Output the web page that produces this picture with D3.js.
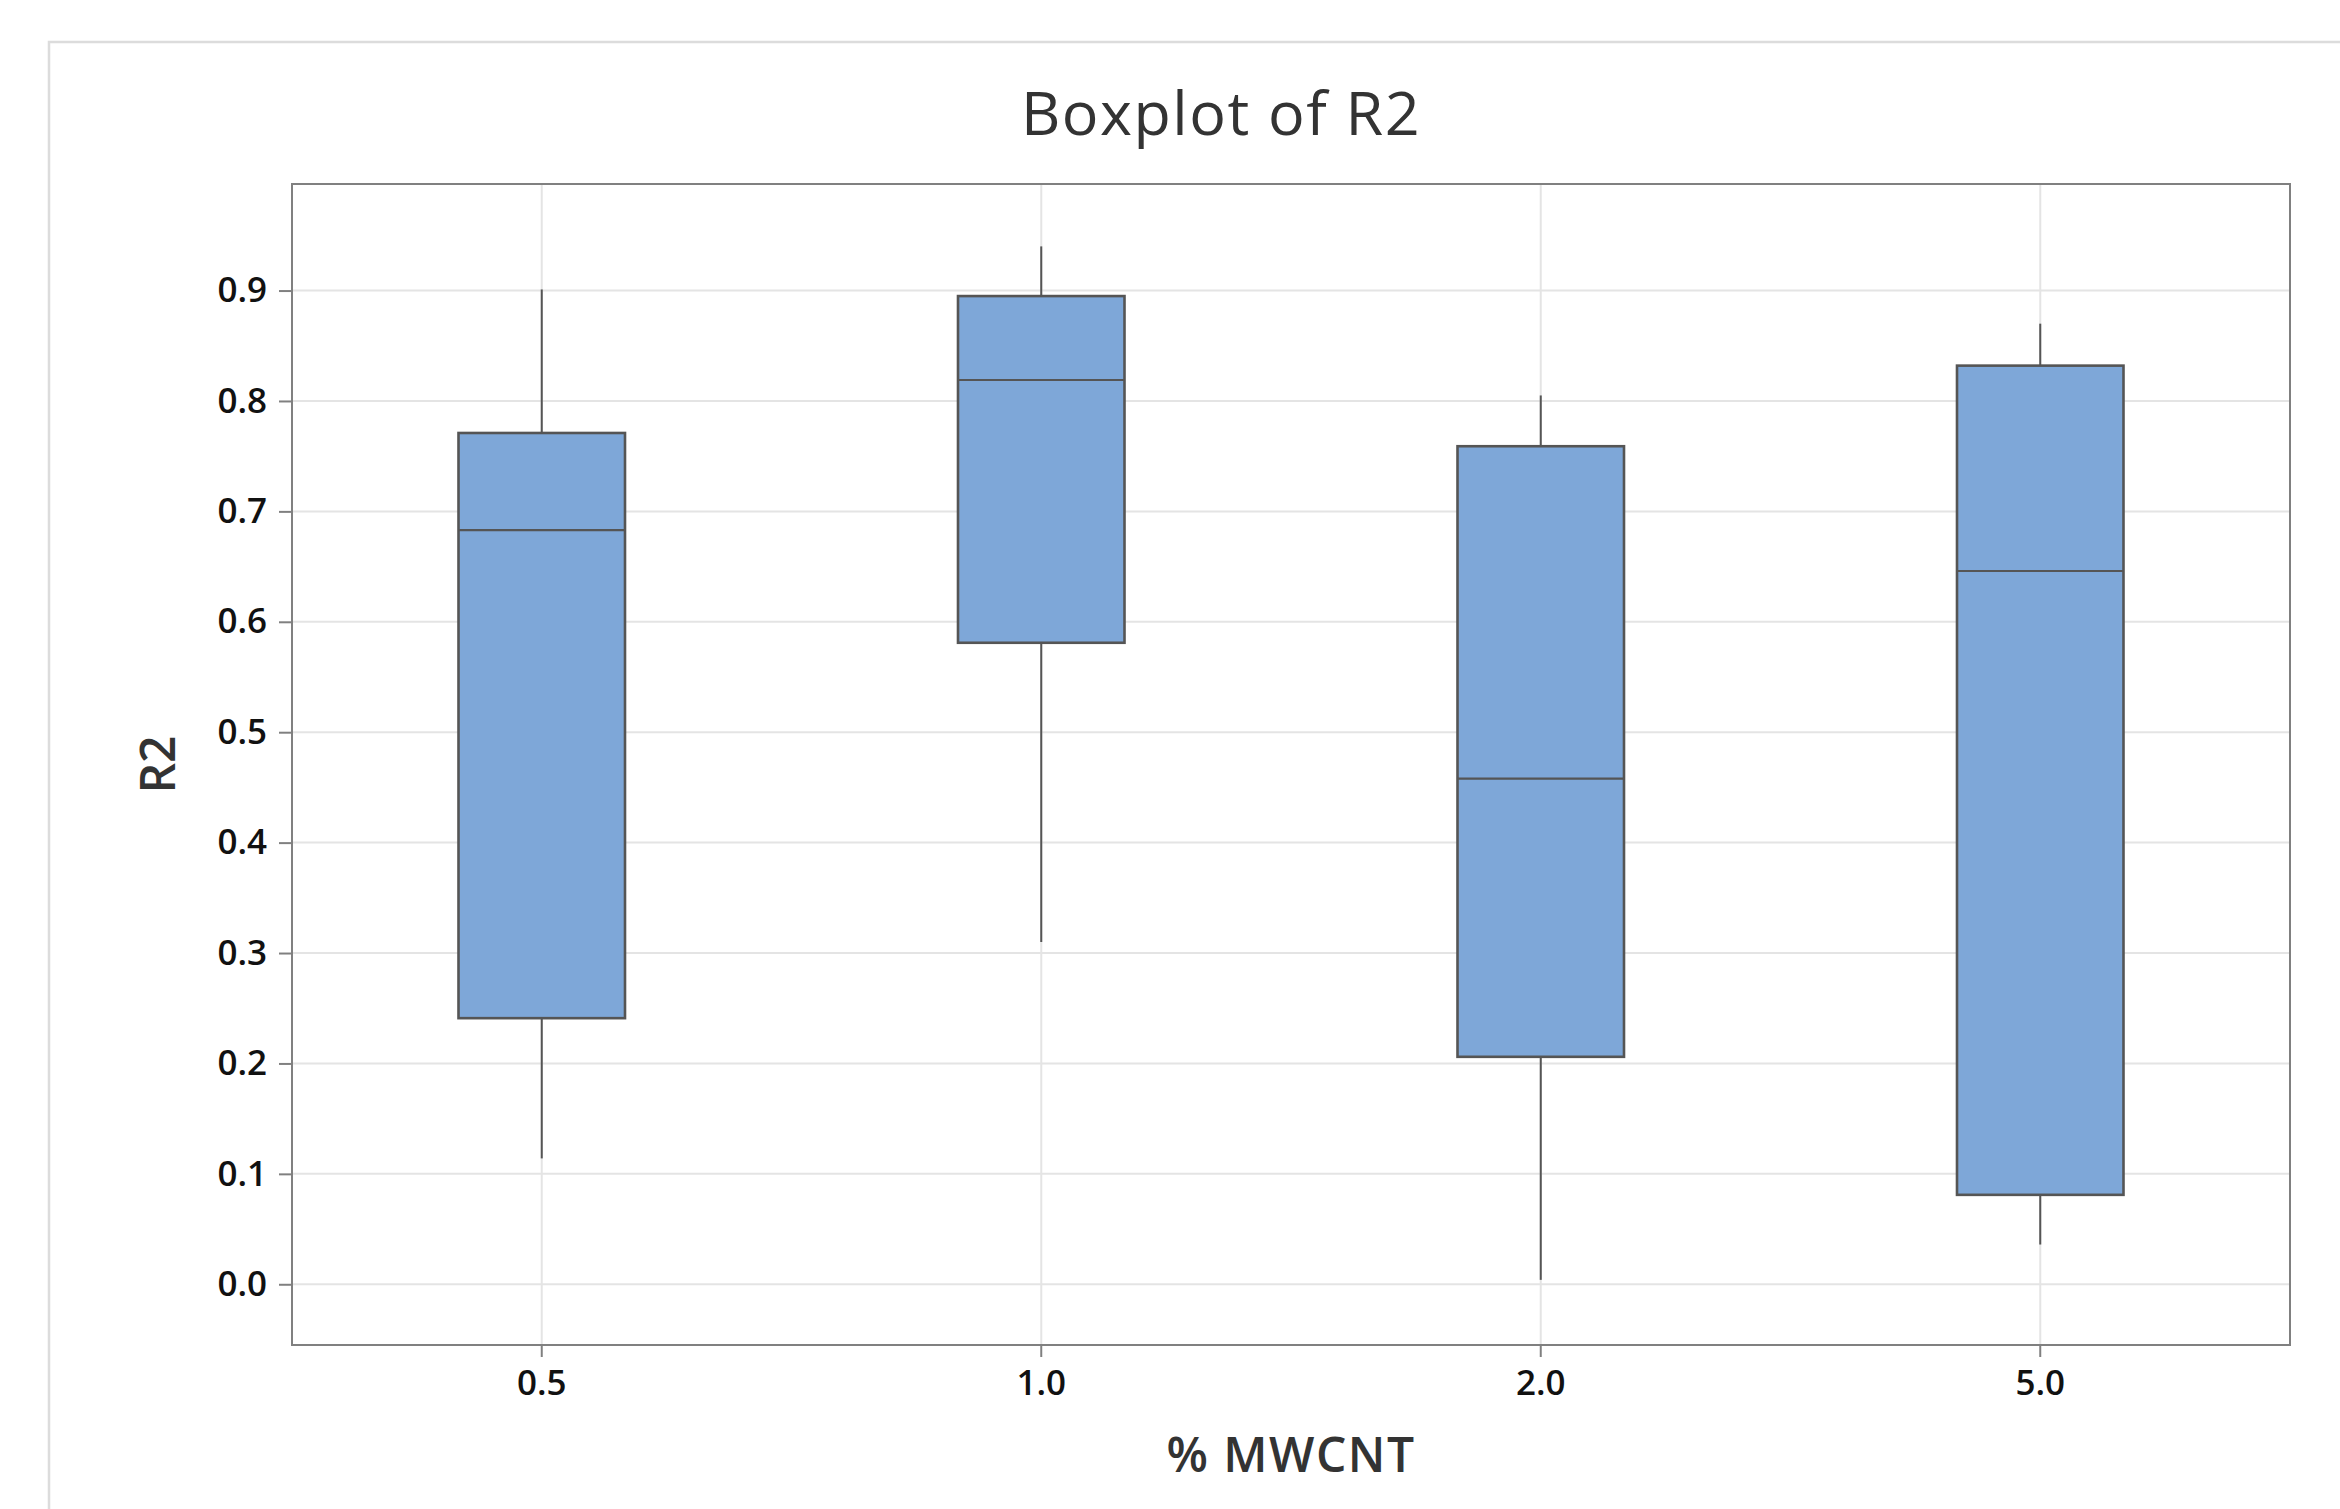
<!DOCTYPE html>
<html>
<head>
<meta charset="utf-8">
<script src="https://cdn.jsdelivr.net/npm/d3@7"></script>
<style>
  html, body { margin: 0; padding: 0; background: #fff; }
  svg { display: block; font-family: "Open Sans", "Noto Sans", sans-serif; }
</style>
</head>
<body>
<div id="chart"></div>
<script>
// Boxplot of R2 by % MWCNT

// DATA
const categories = ["0.5", "1.0", "2.0", "5.0"];
const whiskerLow = [0.114, 0.310, 0.004, 0.036];
const q1 = [0.241, 0.581, 0.206, 0.081];
const median = [0.683, 0.819, 0.458, 0.646];
const q3 = [0.771, 0.895, 0.759, 0.832];
const whiskerHigh = [0.901, 0.940, 0.805, 0.870];
const yTicks = [0.0, 0.1, 0.2, 0.3, 0.4, 0.5, 0.6, 0.7, 0.8, 0.9];

// LAYOUT
const width = 2340;
const height = 1509;
const plot = { left: 292, right: 2290, top: 184, bottom: 1345 };

const svg = d3.select("#chart")
    .append("svg")
    .attr("width", width)
    .attr("height", height);

// outer panel border (only top and left edges show in the picture)
svg.append("rect")
    .attr("x", 49)
    .attr("y", 42)
    .attr("width", width)
    .attr("height", height)
    .attr("fill", "#fff")
    .attr("stroke", "#dcdcdc")
    .attr("stroke-width", 2.5);

// scales
const xScale = d3.scaleBand()
    .domain(categories)
    .range([plot.left, plot.right])
    .padding(0);
const yScale = d3.scaleLinear()
    .domain([-0.055, 0.9965])
    .range([plot.bottom, plot.top]);

const boxW = xScale.bandwidth() / 3;
const cx = c => xScale(c) + xScale.bandwidth() / 2;

// grid lines
svg.append("g")
    .selectAll("line")
    .data(yTicks)
    .join("line")
    .attr("x1", plot.left)
    .attr("x2", plot.right)
    .attr("y1", d => yScale(d))
    .attr("y2", d => yScale(d))
    .attr("stroke", "#e4e4e4")
    .attr("stroke-width", 2);
svg.append("g")
    .selectAll("line")
    .data(categories)
    .join("line")
    .attr("x1", d => cx(d))
    .attr("x2", d => cx(d))
    .attr("y1", plot.top)
    .attr("y2", plot.bottom)
    .attr("stroke", "#e4e4e4")
    .attr("stroke-width", 2);

// boxes
const rows = categories.map((c, i) => ({
    cat: c, lo: whiskerLow[i], q1: q1[i], med: median[i], q3: q3[i], hi: whiskerHigh[i]
}));
const boxes = svg.append("g").selectAll("g").data(rows).join("g");

// whiskers
boxes.append("line")
    .attr("x1", d => cx(d.cat))
    .attr("x2", d => cx(d.cat))
    .attr("y1", d => yScale(d.hi))
    .attr("y2", d => yScale(d.q3))
    .attr("stroke", "#555")
    .attr("stroke-width", 2);
boxes.append("line")
    .attr("x1", d => cx(d.cat))
    .attr("x2", d => cx(d.cat))
    .attr("y1", d => yScale(d.q1))
    .attr("y2", d => yScale(d.lo))
    .attr("stroke", "#555")
    .attr("stroke-width", 2);

// IQR box
boxes.append("rect")
    .attr("x", d => cx(d.cat) - boxW / 2)
    .attr("width", boxW)
    .attr("y", d => yScale(d.q3))
    .attr("height", d => yScale(d.q1) - yScale(d.q3))
    .attr("fill", "#7ea7d8")
    .attr("stroke", "#555")
    .attr("stroke-width", 2.6);

// median line
boxes.append("line")
    .attr("x1", d => cx(d.cat) - boxW / 2)
    .attr("x2", d => cx(d.cat) + boxW / 2)
    .attr("y1", d => yScale(d.med))
    .attr("y2", d => yScale(d.med))
    .attr("stroke", "#555")
    .attr("stroke-width", 2.2);

// axes
const yAxis = d3.axisLeft(yScale)
    .tickValues(yTicks)
    .tickFormat(d3.format(".1f"))
    .tickSize(13)
    .tickPadding(12);
const xAxis = d3.axisBottom(xScale)
    .tickSize(12)
    .tickPadding(13);

const gy = svg.append("g")
    .attr("transform", "translate(" + plot.left + ",0)")
    .call(yAxis);
const gx = svg.append("g")
    .attr("transform", "translate(0," + plot.bottom + ")")
    .call(xAxis);

[gx, gy].forEach(g => {
    g.select(".domain").remove();
    g.selectAll(".tick line").attr("stroke", "#808080").attr("stroke-width", 2);
    g.selectAll(".tick text")
        .attr("fill", "#111")
        .style("font-family", "'Open Sans', 'Noto Sans', sans-serif")
        .style("font-weight", 600)
        .style("font-size", "35px");
});

// frame
svg.append("rect")
    .attr("x", plot.left)
    .attr("y", plot.top)
    .attr("width", plot.right - plot.left)
    .attr("height", plot.bottom - plot.top)
    .attr("fill", "none")
    .attr("stroke", "#808080")
    .attr("stroke-width", 2);

// title
svg.append("text")
    .attr("x", 1221)
    .attr("y", 135)
    .attr("text-anchor", "middle")
    .attr("fill", "#333")
    .style("font-size", "61px")
    .style("letter-spacing", "1.5px")
    .text("Boxplot of R2");

// axis titles
svg.append("text")
    .attr("x", (plot.left + plot.right) / 2)
    .attr("y", 1472)
    .attr("text-anchor", "middle")
    .attr("fill", "#333")
    .style("font-weight", 600)
    .style("font-size", "48px")
    .style("letter-spacing", "1.5px")
    .text("% MWCNT");

svg.append("text")
    .attr("transform", "translate(175," + ((plot.top + plot.bottom) / 2) + ")rotate(-90)")
    .attr("text-anchor", "middle")
    .attr("fill", "#333")
    .style("font-weight", 600)
    .style("font-size", "48px")
    .text("R2");
</script>
</body>
</html>
